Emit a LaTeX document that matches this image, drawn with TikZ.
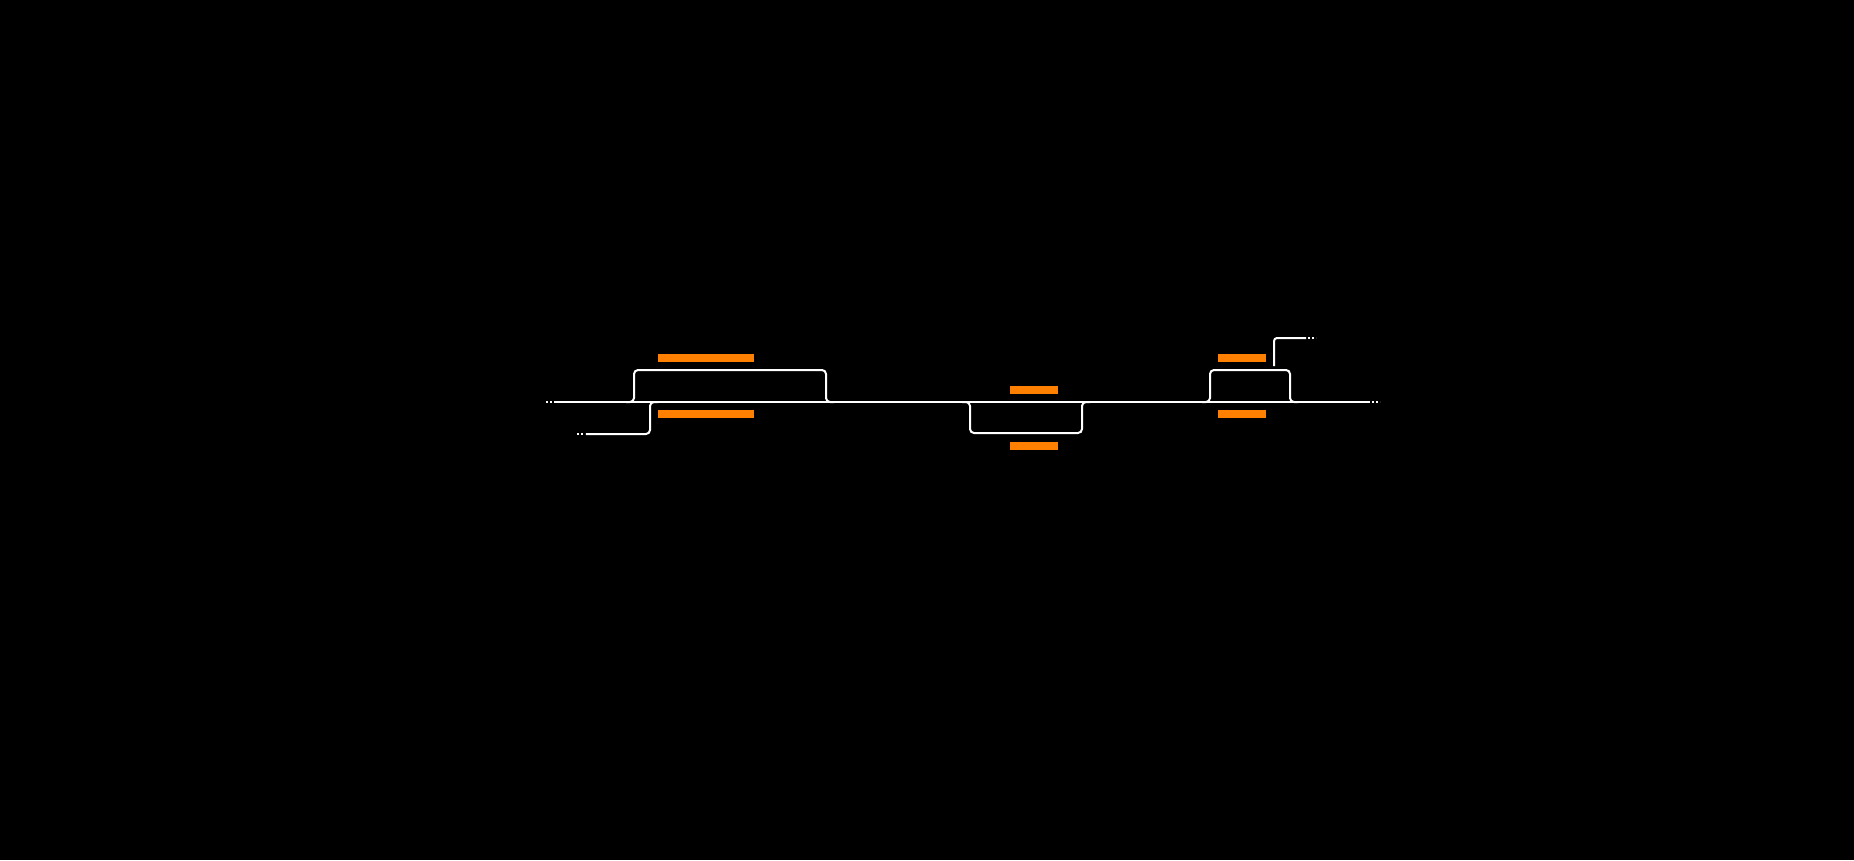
\documentclass[tikz,border=0pt]{standalone}
\definecolor{barorange}{RGB}{255,128,0}
\begin{document}
\begin{tikzpicture}[x=1pt,y=-1pt,
  track/.style={draw=white,line width=2pt,rounded corners=4pt},
  dots/.style={draw=white,line width=2pt,dash pattern=on 2pt off 2pt},
  bar/.style={fill=barorange,draw=none,inner sep=0pt,minimum height=8pt}]
\fill[black] (0,0) rectangle (1854,860);
\useasboundingbox (0,0) rectangle (1854,860);
% coordinates
\coordinate (mainL) at (554,402);
\coordinate (mainR) at (1370,402);
% main line
\draw[dots] (546,402) -- (554,402);
\draw[track] (mainL) -- (mainR);
\draw[dots] (1372,402) -- (1380,402);
% first upper loop
\draw[track] (626,402) -- (634,402) -- (634,370) -- (826,370) -- (826,402) -- (834,402);
% entry from lower left
\draw[dots] (577,434) -- (585,434);
\draw[track] (586,434) -- (650,434) -- (650,402) -- (658,402);
% lower loop
\draw[track] (962,402) -- (970,402) -- (970,433) -- (1082,433) -- (1082,402) -- (1090,402);
% third upper loop
\draw[track] (1202,402) -- (1210,402) -- (1210,370) -- (1290,370) -- (1290,402) -- (1298,402);
% exit upward
\draw[track,rounded corners=3pt] (1274,366) -- (1274,338) -- (1306,338);
\draw[dots] (1308,338) -- (1316,338);
% orange bars
\node[bar,minimum width=96pt] (b1) at (706,358) {};
\node[bar,minimum width=96pt] (b2) at (706,414) {};
\node[bar,minimum width=48pt] (b3) at (1034,390) {};
\node[bar,minimum width=48pt] (b4) at (1034,446) {};
\node[bar,minimum width=48pt] (b5) at (1242,358) {};
\node[bar,minimum width=48pt] (b6) at (1242,414) {};
\end{tikzpicture}
\end{document}
